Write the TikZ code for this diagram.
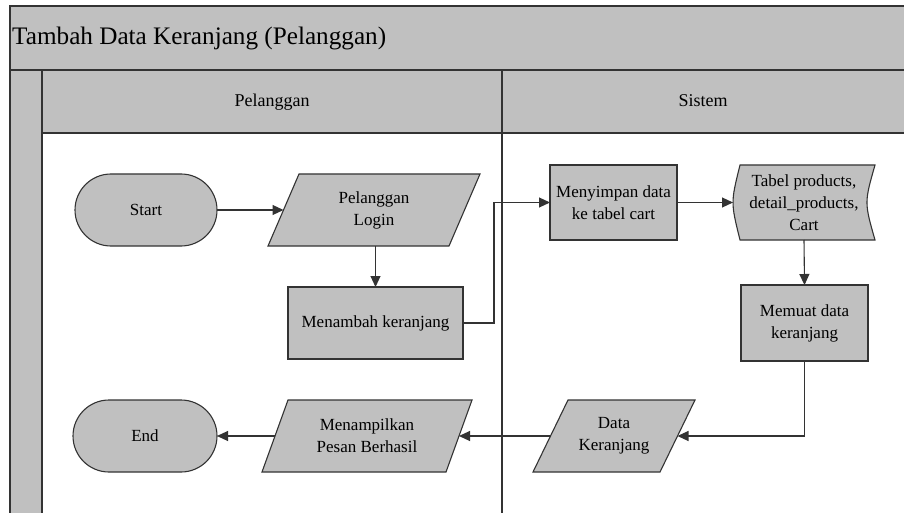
\documentclass[tikz,border=0pt]{standalone}
\usepackage{fontspec}
\setmainfont{Liberation Serif}
\usetikzlibrary{arrows.meta,backgrounds}
\definecolor{boxgray}{HTML}{C0C0C0}
\definecolor{edge}{HTML}{333333}

\begin{document}
\begin{tikzpicture}[x=1pt,y=-1pt,
  lanepart/.style={fill=boxgray, draw=edge, line width=1.3pt},
  laneline/.style={draw=edge, line width=1.3pt},
  flowtext/.style={align=center, inner sep=0pt, outer sep=0pt,
    font=\fontsize{17}{22}\selectfont},
  flowbox/.style={flowtext, draw=edge, fill=boxgray, line width=1.1pt},
  terminal/.style={flowbox, rounded corners=36pt},
  outline/.style={draw=edge, fill=boxgray, line width=1.1pt},
  flow/.style={draw=edge, line width=1.1pt, -{Triangle[length=11pt,width=10pt]}},
]
\useasboundingbox (0,0) rectangle (904,513);

% swimlane frame
\begin{pgfonlayer}{background}
  \fill[white] (0,0) rectangle (904,513);
  \path[lanepart] (10,6) rectangle (914,70);
  \path[lanepart] (10,70) rectangle (914,133);
  \path[lanepart] (10,70) rectangle (42,520);
  \fill[white] (42,133) rectangle (914,520);
  \draw[laneline] (42,133) -- (914,133);
  \draw[laneline] (42,70) -- (42,520);
  \draw[laneline] (502,70) -- (502,520);
\end{pgfonlayer}

\node[anchor=base west, inner sep=0pt, font=\fontsize{25.2}{29}\selectfont] (title) at (12,45) {Tambah Data Keranjang (Pelanggan)};
\node[anchor=base, inner sep=0pt, font=\fontsize{18}{22}\selectfont] (lanea) at (272,107) {Pelanggan};
\node[anchor=base, inner sep=0pt, font=\fontsize{18}{22}\selectfont] (laneb) at (703,107) {Sistem};

% flow steps
\node[terminal, minimum width=142pt, minimum height=72pt] (start) at (146,210) {Start};
\node[flowtext, minimum width=212pt, minimum height=72pt] (login) at (374,210) {Pelanggan\\Login};
\node[flowbox, minimum width=175pt, minimum height=72pt] (add) at (375.5,323) {Menambah keranjang};
\node[flowbox, minimum width=127pt, minimum height=75pt] (save) at (613.5,202.5) {Menyimpan data\\ke tabel cart};
\node[flowtext, minimum width=142pt, minimum height=75pt] (tbl) at (804,202.5) {Tabel products,\\detail\_products,\\Cart};
\node[flowbox, minimum width=127pt, minimum height=76pt] (load) at (804.5,323) {Memuat data\\keranjang};
\node[flowtext, minimum width=162pt, minimum height=72pt] (data) at (614,436) {Data\\Keranjang};
\node[flowtext, minimum width=210pt, minimum height=72pt] (show) at (367,436) {Menampilkan\\Pesan Berhasil};
\node[terminal, minimum width=144pt, minimum height=72pt] (end) at (145,436) {End};

% outlines of the input/output and stored-data symbols
\begin{pgfonlayer}{background}
  \path[outline] ([xshift=31pt]login.north west) -- (login.north east)
    -- ([xshift=-31pt]login.south east) -- (login.south west) -- cycle;
  \path[outline] ([xshift=35pt]data.north west) -- (data.north east)
    -- ([xshift=-35pt]data.south east) -- (data.south west) -- cycle;
  \path[outline] ([xshift=26pt]show.north west) -- (show.north east)
    -- ([xshift=-26pt]show.south east) -- (show.south west) -- cycle;
  \path[outline] ([xshift=7pt]tbl.north west) -- (tbl.north east)
    .. controls ([xshift=-10.7pt]tbl.east) .. (tbl.south east)
    -- ([xshift=7pt]tbl.south west)
    .. controls ([xshift=-2.3pt]tbl.west) .. ([xshift=7pt]tbl.north west) -- cycle;
\end{pgfonlayer}

% connectors
\draw[flow] (start.east) -- ([xshift=15.5pt]login.west);
\draw[flow] (login.south -| add.north) -- (add.north);
\draw[flow] (add.east) -- ++(31,0) |- (save.west);
\draw[flow] (save.east) -- (tbl.west);
\draw[flow] (tbl.south) -- (load.north);
\draw[flow] (load.south) |- ([xshift=-17.5pt]data.east);
\draw[flow] ([xshift=17.5pt]data.west) -- ([xshift=-13pt]show.east);
\draw[flow] ([xshift=13pt]show.west) -- (end.east);
\end{tikzpicture}
\end{document}
